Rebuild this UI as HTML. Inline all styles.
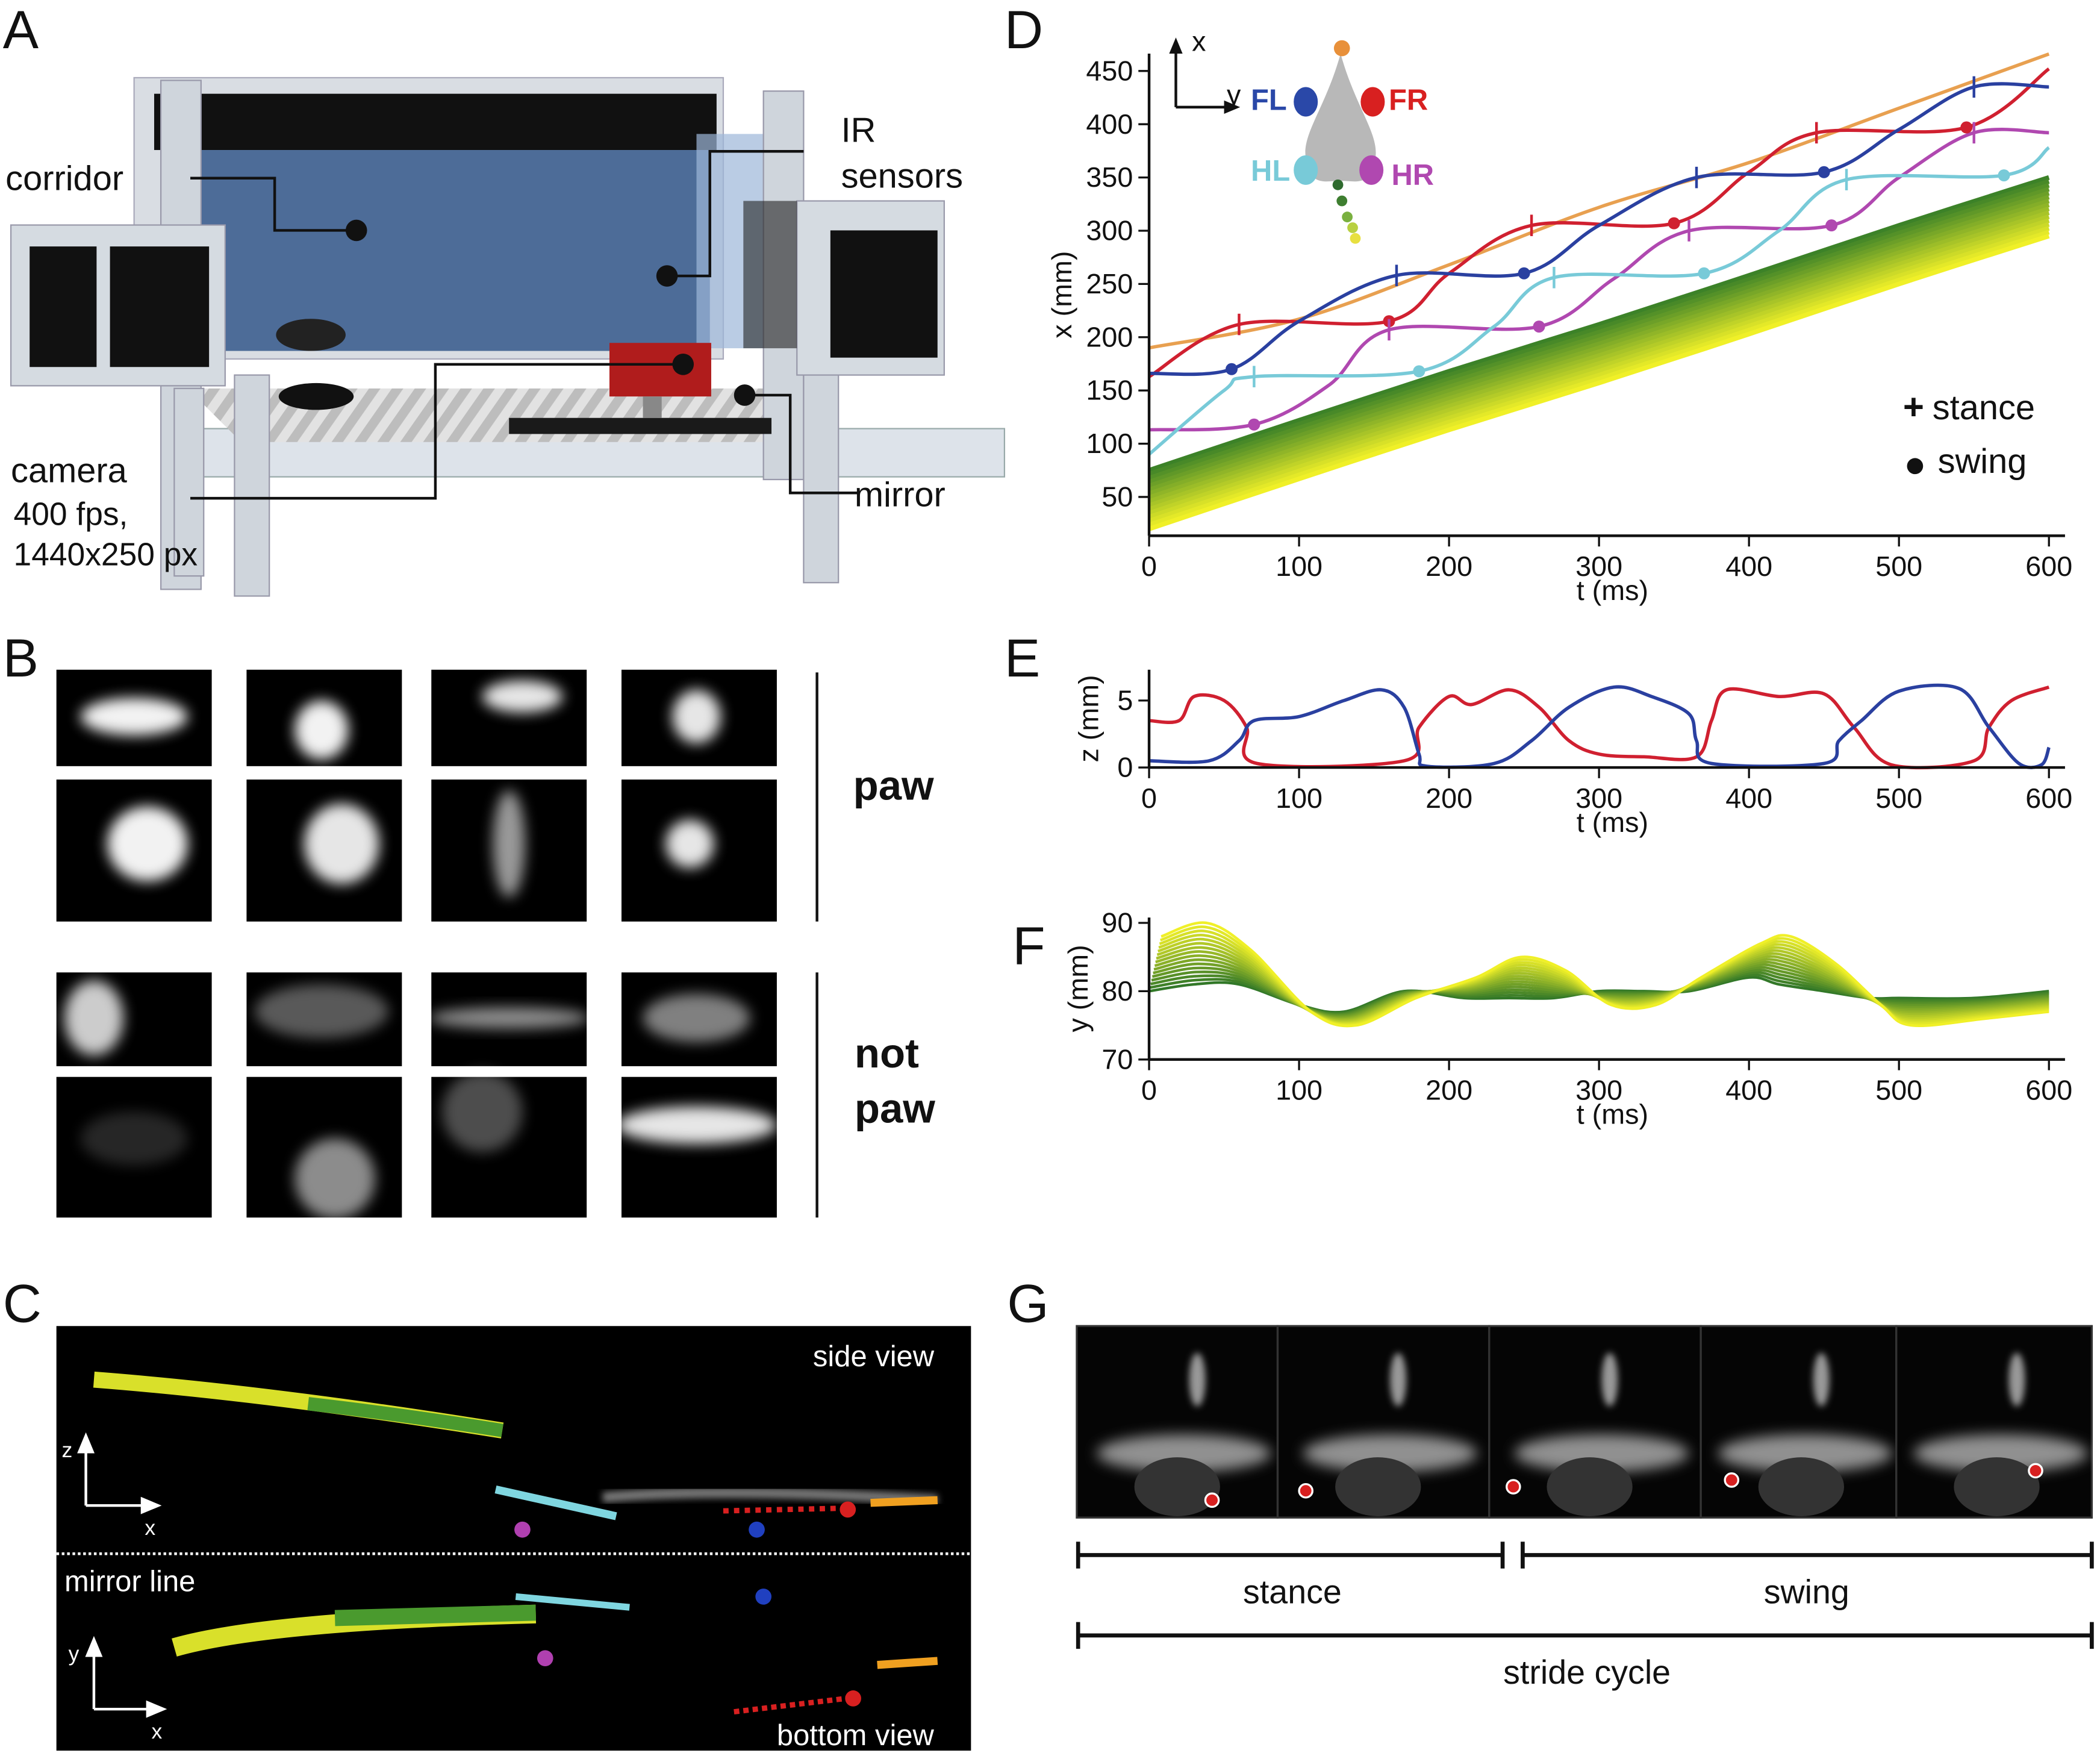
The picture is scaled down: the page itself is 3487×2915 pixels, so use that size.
<!DOCTYPE html>
<html><head><meta charset="utf-8"><style>
html,body{margin:0;padding:0;background:#fff}
svg{display:block}
text{font-family:"Liberation Sans",sans-serif}
</style></head><body>
<svg id="fig" width="3487" height="2915" viewBox="0 0 1568 1311" xmlns="http://www.w3.org/2000/svg">
<defs>
<filter id="blur" x="-50%" y="-50%" width="200%" height="200%"><feGaussianBlur stdDeviation="5"/></filter>
<filter id="blur2" x="-50%" y="-50%" width="200%" height="200%"><feGaussianBlur stdDeviation="2.5"/></filter>
<pattern id="stripes" width="14" height="14" patternUnits="userSpaceOnUse" patternTransform="rotate(35)"><rect width="14" height="14" fill="#e2e2e2"/><rect width="7" height="14" fill="#bdbdbd"/></pattern>
</defs>

<g font-size="40" fill="#111">
<text x="2" y="36">A</text>
<text x="2" y="505">B</text>
<text x="2" y="987">C</text>
<text x="750" y="36">D</text>
<text x="750" y="505">E</text>
<text x="756" y="720">F</text>
<text x="752" y="987">G</text>
</g>

<g>
<rect x="150" y="320" width="600" height="36" fill="#dde3ea" stroke="#9aa" />
<polygon points="140,290 600,290 620,330 180,330" fill="url(#stripes)"/>
<rect x="100" y="58" width="440" height="210" fill="#d9dde3" stroke="#aab"/>
<rect x="115" y="70" width="420" height="42" fill="#111"/>
<rect x="150" y="112" width="380" height="150" fill="#3d5f8f" opacity="0.9"/>
<rect x="520" y="100" width="80" height="160" fill="#9db7d8" opacity="0.7"/>
<rect x="120" y="60" width="30" height="380" fill="#cfd5dc" stroke="#99a"/>
<rect x="175" y="280" width="26" height="165" fill="#cfd5dc" stroke="#99a"/>
<rect x="130" y="290" width="22" height="140" fill="#cfd5dc" stroke="#99a"/>
<rect x="570" y="68" width="30" height="290" fill="#cfd5dc" stroke="#99a"/>
<rect x="600" y="270" width="26" height="165" fill="#cfd5dc" stroke="#99a"/>
<rect x="8" y="168" width="160" height="120" fill="#d5dbe1" stroke="#99a"/>
<rect x="22" y="184" width="50" height="90" fill="#111"/>
<rect x="82" y="184" width="74" height="90" fill="#111"/>
<rect x="595" y="150" width="110" height="130" fill="#d5dbe1" stroke="#99a"/>
<rect x="620" y="172" width="80" height="95" fill="#111"/>
<rect x="555" y="150" width="40" height="110" fill="#222" opacity="0.6"/>
<rect x="380" y="312" width="196" height="12" fill="#1a1a1a"/>
<rect x="455" y="256" width="76" height="40" fill="#b01c1c"/>
<rect x="480" y="296" width="14" height="16" fill="#888"/>
<ellipse cx="232" cy="250" rx="26" ry="12" fill="#222"/>
<ellipse cx="236" cy="296" rx="28" ry="10" fill="#111"/>
</g>
<g stroke="#111" stroke-width="2" fill="none">
<polyline points="142,133 205,133 205,172 266,172"/>
<polyline points="600,113 530,113 530,206 498,206"/>
<polyline points="142,372 325,372 325,272 510,272"/>
<polyline points="640,368 590,368 590,295 556,295"/>
</g>
<g fill="#111"><circle cx="266" cy="172" r="8"/><circle cx="498" cy="206" r="8"/><circle cx="510" cy="272" r="8"/><circle cx="556" cy="295" r="8"/></g>
<g font-size="26" fill="#111">
<text x="4" y="142">corridor</text>
<text x="628" y="106">IR</text>
<text x="628" y="140">sensors</text>
<text x="8" y="360">camera</text>
<text x="10" y="392" font-size="24">400 fps,</text>
<text x="10" y="422" font-size="24">1440x250  px</text>
<text x="638" y="378">mirror</text>
</g>

<g id="panelB"></g>
<line x1="610" y1="502" x2="610" y2="688" stroke="#111" stroke-width="2"/>
<line x1="610" y1="726" x2="610" y2="909" stroke="#111" stroke-width="2"/>
<text x="637" y="597" font-size="31" font-weight="bold" fill="#111">paw</text>
<text x="638" y="797" font-size="31" font-weight="bold" fill="#111">not</text>
<text x="638" y="838" font-size="31" font-weight="bold" fill="#111">paw</text>

<g>
<rect x="42" y="990" width="683" height="317" fill="#000"/>
<path d="M70,1030 Q200,1040 375,1068" stroke="#d9e02a" stroke-width="12" fill="none"/>
<path d="M230,1048 Q300,1056 375,1068" stroke="#4a9a2e" stroke-width="10" fill="none"/>
<path d="M370,1112 L460,1132" stroke="#7fd6e0" stroke-width="6" fill="none"/>
<path d="M450,1118 Q540,1110 700,1120" stroke="#777" stroke-width="8" fill="none" filter="url(#blur2)"/>
<path d="M540,1128 L630,1126" stroke="#d82020" stroke-width="4" stroke-dasharray="4 4"/>
<circle cx="633" cy="1127" r="6" fill="#d82020"/>
<path d="M650,1122 L700,1120" stroke="#f0a020" stroke-width="6"/>
<circle cx="390" cy="1142" r="6" fill="#b040b0"/>
<circle cx="565" cy="1142" r="6" fill="#2040c0"/>
<line x1="42" y1="1160" x2="725" y2="1160" stroke="#fff" stroke-width="2" stroke-dasharray="2 2"/>
<path d="M130,1230 Q200,1210 400,1205" stroke="#d9e02a" stroke-width="14" fill="none"/>
<path d="M250,1208 L400,1204" stroke="#4a9a2e" stroke-width="12" fill="none"/>
<path d="M385,1192 L470,1200" stroke="#7fd6e0" stroke-width="5" fill="none"/>
<circle cx="570" cy="1192" r="6" fill="#2040c0"/>
<path d="M655,1243 L700,1240" stroke="#f0a020" stroke-width="6"/>
<path d="M548,1278 L632,1268" stroke="#d82020" stroke-width="4" stroke-dasharray="4 3"/>
<circle cx="637" cy="1268" r="6" fill="#d82020"/>
<circle cx="407" cy="1238" r="6" fill="#b040b0"/>
<g stroke="#fff" stroke-width="2" fill="#fff">
<line x1="64" y1="1124" x2="64" y2="1080"/><polygon points="59,1084 64,1072 69,1084"/>
<line x1="64" y1="1124" x2="110" y2="1124"/><polygon points="106,1119 118,1124 106,1129"/>
<line x1="70" y1="1276" x2="70" y2="1232"/><polygon points="65,1236 70,1224 75,1236"/>
<line x1="70" y1="1276" x2="114" y2="1276"/><polygon points="110,1271 122,1276 110,1281"/>
</g>
<g fill="#fff" font-size="22">
<text x="607" y="1020">side view</text>
<text x="48" y="1188">mirror line</text>
<text x="580" y="1303">bottom view</text>
<text x="46" y="1088" font-size="16">z</text><text x="108" y="1146" font-size="16">x</text>
<text x="51" y="1240" font-size="16">y</text><text x="113" y="1298" font-size="16">x</text>
</g>
</g>

<g id="panelG"></g>
<g stroke="#111" stroke-width="3">
<line x1="805" y1="1161" x2="1122" y2="1161"/><line x1="805" y1="1151" x2="805" y2="1171"/><line x1="1122" y1="1151" x2="1122" y2="1171"/>
<line x1="1137" y1="1161" x2="1562" y2="1161"/><line x1="1137" y1="1151" x2="1137" y2="1171"/><line x1="1562" y1="1151" x2="1562" y2="1171"/>
<line x1="805" y1="1221" x2="1562" y2="1221"/><line x1="805" y1="1211" x2="805" y2="1231"/><line x1="1562" y1="1211" x2="1562" y2="1231"/>
</g>
<g font-size="25" fill="#111" text-anchor="middle">
<text x="965" y="1197">stance</text>
<text x="1349" y="1197">swing</text>
<text x="1185" y="1257">stride cycle</text>
</g>

<g id="chartD"></g>
<g id="chartE"></g>
<g id="chartF"></g>
</svg>
<script>
const dTimeTicks=[0,100,200,300,400,500,600];
const dXTicks=[50,100,150,200,250,300,350,400,450];
const noseT=[0,100,200,300,400,500,600];
const noseV=[190,217,268,322,364,415,466];
const flT=[0,55,100,165,250,300,365,450,500,550,600];
const flV=[166,170,215,258,260,305,350,355,395,435,435];
const frT=[0,60,160,200,255,350,400,445,545,600];
const frV=[163,212,215,260,305,307,355,392,397,452];
const hlT=[0,50,70,180,230,270,370,420,465,570,600];
const hlV=[90,150,163,168,210,256,260,300,348,352,378];
const hrT=[0,70,120,160,260,310,360,455,500,550,600];
const hrV=[113,118,155,207,210,255,300,305,350,392,392];
const flStanceT=[165,365,550], flSwingT=[55,250,450];
const frStanceT=[60,255,445], frSwingT=[160,350,545];
const hlStanceT=[70,270,465], hlSwingT=[180,370,570];
const hrStanceT=[160,360,550], hrSwingT=[70,260,455];
const tailT=[0,100,200,300,400,500,600];
const tailTopV=[75,122,168,212,258,305,350];
const tailSpread=[0,55];
const eTicksY=[0,5];
const redZT=[0,20,30,50,65,72,170,180,200,215,240,260,280,300,330,365,375,385,420,450,470,495,550,560,575,600];
const redZV=[3.5,3.5,5.3,5,3,0.3,0.5,3,5.3,4.7,5.8,4.5,2,1,0.8,0.8,3.5,5.8,5.3,5.5,3,0.2,0.5,3,5,6];
const blueZT=[0,40,60,70,100,130,155,170,180,185,230,255,280,310,335,360,365,375,450,460,475,500,540,560,580,595,600];
const blueZV=[0.5,0.5,2,3.5,3.8,5,5.8,4.5,1,0.1,0.3,2,4.5,6,5.3,4,2,0.3,0.3,2,3.5,5.7,5.9,3,0.3,0.2,1.5];
const fTicksY=[70,80,90];
const fT=[0,30,60,100,130,170,210,240,270,300,330,360,400,420,450,480,500,550,600];
const yellowY=[88,90,86,77,75,79,82,85,83,78,78,82,87,88,84,78,75,76,77];
const greenY=[80,81,81,78,77,80,79,79,79,80,80,80,82,81,80,79,79,79,80];

const NS="http://www.w3.org/2000/svg";
function mk(parent,tag,attrs){const e=document.createElementNS(NS,tag);for(const k in attrs)e.setAttribute(k,attrs[k]);parent.appendChild(e);return e;}
function interp(ts,vs,t){for(let i=0;i<ts.length-1;i++){if(t<=ts[i+1]){const f=(t-ts[i])/(ts[i+1]-ts[i]);return vs[i]+f*(vs[i+1]-vs[i]);}}return vs[vs.length-1];}
function X(t){return 858+t*1.12;}
function pathFrom(ts,vs,yf){
  const p=ts.map((t,i)=>[X(t),yf(vs[i])]);
  let d='M'+p[0][0].toFixed(1)+','+p[0][1].toFixed(1);
  for(let i=0;i<p.length-1;i++){
    const p0=p[Math.max(0,i-1)],p1=p[i],p2=p[i+1],p3=p[Math.min(p.length-1,i+2)];
    const c1=[p1[0]+(p2[0]-p0[0])/6,p1[1]+(p2[1]-p0[1])/6];
    const c2=[p2[0]-(p3[0]-p1[0])/6,p2[1]-(p3[1]-p1[1])/6];
    d+=' C'+c1.map(v=>v.toFixed(1)).join(',')+' '+c2.map(v=>v.toFixed(1)).join(',')+' '+p2[0].toFixed(1)+','+p2[1].toFixed(1);
  }
  return d;
}
function lerpColor(a,b,f){return 'rgb('+a.map((v,i)=>Math.round(v+(b[i]-v)*f)).join(',')+')';}
function xAxis(g,y,ticks,name){
  const ax=mk(g,'line',{x1:X(0),y1:y,x2:X(600)+12,y2:y,stroke:'#111','stroke-width':2});
  
  
  ticks.forEach(t=>{mk(g,'line',{x1:X(t),y1:y,x2:X(t),y2:y+8,stroke:'#111','stroke-width':1.5});
    const tx=mk(g,'text',{x:X(t),y:y+30,'font-size':21,'text-anchor':'middle',fill:'#111'});tx.textContent=t;
    
    });
  const tl=mk(g,'text',{x:1204,y:y+48,'font-size':21,'text-anchor':'middle',fill:'#111'});tl.textContent='t (ms)';
  
  
}
function yAxis(g,y0,y1,ticks,yf,title,name,tx){
  mk(g,'line',{x1:X(0),y1:y0,x2:X(0),y2:y1,stroke:'#111','stroke-width':2});
  ticks.forEach(v=>{mk(g,'line',{x1:X(0)-8,y1:yf(v),x2:X(0),y2:yf(v),stroke:'#111','stroke-width':1.5});
    const t=mk(g,'text',{x:X(0)-12,y:yf(v)+7,'font-size':21,'text-anchor':'end',fill:'#111'});t.textContent=v;
    
    });
  const yt=mk(g,'text',{x:tx,y:(y0+y1)/2,'font-size':21,'text-anchor':'middle',fill:'#111',transform:`rotate(-90 ${tx} ${(y0+y1)/2})`});yt.textContent=title;
  
  
}
(function(){
  const g=document.getElementById('chartD');
  const Yd=v=>53+(450-v)*0.795;
  const n=16;
  for(let k=0;k<n;k++){
    const f=k/(n-1);
    const vs=tailTopV.map(v=>v-tailSpread[0]-f*(tailSpread[1]-tailSpread[0]));
    const p=mk(g,'path',{d:pathFrom(tailT,vs,Yd),fill:'none',stroke:lerpColor([60,130,40],[240,240,40],f),'stroke-width':3.5});
    
    
  }
  const series=[[noseT,noseV,'#e8a050','nose-line'],[hrT,hrV,'#b048b0','hr-line'],[hlT,hlV,'#78cad8','hl-line'],[frT,frV,'#d02030','fr-line'],[flT,flV,'#2a40a0','fl-line']];
  series.forEach(s=>{const p=mk(g,'path',{d:pathFrom(s[0],s[1],Yd),fill:'none',stroke:s[2],'stroke-width':2.5});
    
    });
  const marks=[[flT,flV,flStanceT,flSwingT,'#2a40a0'],[frT,frV,frStanceT,frSwingT,'#d02030'],[hlT,hlV,hlStanceT,hlSwingT,'#78cad8'],[hrT,hrV,hrStanceT,hrSwingT,'#b048b0']];
  marks.forEach(m=>{
    m[2].forEach(t=>{const y=Yd(interp(m[0],m[1],t));const l=mk(g,'line',{x1:X(t),y1:y-8,x2:X(t),y2:y+8,stroke:m[4],'stroke-width':2});
      
      });
    m[3].forEach(t=>{const c=mk(g,'circle',{cx:X(t),cy:Yd(interp(m[0],m[1],t)),r:4.5,fill:m[4]});
      
      });
  });
  yAxis(g,40,400,dXTicks,Yd,'x (mm)','chart-d',800);
  xAxis(g,400,dTimeTicks,'chart-d');
  const ins=mk(g,'g',{});
  
  
  mk(ins,'line',{x1:878,y1:80,x2:878,y2:34,stroke:'#111','stroke-width':2});mk(ins,'polygon',{points:'873,40 878,28 883,40',fill:'#111'});
  mk(ins,'line',{x1:878,y1:80,x2:918,y2:80,stroke:'#111','stroke-width':2});mk(ins,'polygon',{points:'914,75 926,80 914,85',fill:'#111'});
  let t=mk(ins,'text',{x:890,y:38,'font-size':21,fill:'#111'});t.textContent='x';
  t=mk(ins,'text',{x:916,y:78,'font-size':21,fill:'#111'});t.textContent='y';
  mk(ins,'path',{d:'M1001,40 C990,80 972,100 975,118 C978,140 990,135 1001,135 C1012,135 1024,140 1027,118 C1030,100 1012,80 1001,40 Z',fill:'#b8b8b8'});
  mk(ins,'circle',{cx:1002,cy:36,r:6,fill:'#e8903a'});
  mk(ins,'ellipse',{cx:975,cy:76,rx:9,ry:11,fill:'#2a48a8'});
  mk(ins,'ellipse',{cx:1025,cy:76,rx:9,ry:11,fill:'#d82020'});
  mk(ins,'ellipse',{cx:975,cy:127,rx:9,ry:11,fill:'#78cad8'});
  mk(ins,'ellipse',{cx:1024,cy:127,rx:9,ry:11,fill:'#b048b0'});
  [[999,138,'#2e6a2e'],[1002,150,'#3e7e30'],[1006,162,'#7ab040'],[1010,170,'#b8d040'],[1012,178,'#e8e040']].forEach(c=>mk(ins,'circle',{cx:c[0],cy:c[1],r:4,fill:c[2]}));
  t=mk(ins,'text',{x:934,y:82,'font-size':22,'font-weight':'bold',fill:'#2a48a8'});t.textContent='FL';
  t=mk(ins,'text',{x:1037,y:82,'font-size':22,'font-weight':'bold',fill:'#d82020'});t.textContent='FR';
  t=mk(ins,'text',{x:934,y:135,'font-size':22,'font-weight':'bold',fill:'#78cad8'});t.textContent='HL';
  t=mk(ins,'text',{x:1039,y:138,'font-size':22,'font-weight':'bold',fill:'#b048b0'});t.textContent='HR';
  const lg=mk(g,'g',{});
  
  
  t=mk(lg,'text',{x:1421,y:313,'font-size':27,'font-weight':'bold',fill:'#111'});t.textContent='+';
  t=mk(lg,'text',{x:1443,y:313,'font-size':26,fill:'#111'});t.textContent='stance';
  mk(lg,'circle',{cx:1430,cy:348,r:6,fill:'#111'});
  t=mk(lg,'text',{x:1447,y:353,'font-size':26,fill:'#111'});t.textContent='swing';
})();
(function(){
  const g=document.getElementById('chartE');
  const Ye=v=>573-v*10;
  let p=mk(g,'path',{d:pathFrom(redZT,redZV,Ye),fill:'none',stroke:'#d02030','stroke-width':2.5});
  
  
  p=mk(g,'path',{d:pathFrom(blueZT,blueZV,Ye),fill:'none',stroke:'#2a40a0','stroke-width':2.5});
  
  
  yAxis(g,500,573,eTicksY,Ye,'z (mm)','chart-e',820);
  xAxis(g,573,dTimeTicks,'chart-e');
})();
(function(){
  const g=document.getElementById('chartF');
  const Yf=v=>740-(v-80)*5.1;
  const n=16;
  for(let k=0;k<n;k++){
    const f=k/(n-1);
    const vs=greenY.map((v,i)=>v+(yellowY[i]-v)*f);
    const ts=fT.map(t=>Math.min(600,t+f*8));
    const p=mk(g,'path',{d:pathFrom(ts,vs,Yf),fill:'none',stroke:lerpColor([50,120,40],[240,240,40],f),'stroke-width':2});
    
    
  }
  yAxis(g,685,791,fTicksY,Yf,'y (mm)','chart-f',812);
  xAxis(g,791,dTimeTicks,'chart-f');
})();
(function(){
  const g=document.getElementById('panelB');
  const cols=[[42,116],[184,116],[322,116],[464,116]];
  const rows=[[500,72],[582,106],[726,70],[804,105]];
  const blobs=[[100,535,40,14,0.95],[240,545,20,22,0.95],[390,520,30,12,0.9],[520,535,18,20,0.9],
               [110,630,30,28,0.95],[255,630,28,30,0.9],[380,630,12,40,0.6],[515,630,18,18,0.9],
               [70,760,22,28,0.8],[240,755,50,20,0.35],[380,760,60,8,0.55],[520,760,40,18,0.5],
               [100,850,40,20,0.15],[250,880,30,30,0.55],[360,830,30,30,0.3],[520,840,60,14,0.9]];
  let idx=0;
  rows.forEach(r=>cols.forEach(c=>{
    const rc=mk(g,'rect',{x:c[0],y:r[0],width:c[1],height:r[1],fill:'#000'});
    
    
    const b=blobs[idx++];
    mk(g,'ellipse',{cx:b[0],cy:b[1],rx:b[2],ry:b[3],fill:'#fff',opacity:b[4],filter:'url(#blur)'});
  }));
})();
(function(){
  const g=document.getElementById('panelG');
  const xs=[804,954,1112,1270,1416];
  const ws=[150,158,158,146,146];
  const dots=[[905,1120],[975,1113],[1130,1110],[1293,1105],[1520,1098]];
  xs.forEach((x,i)=>{
    const r=mk(g,'rect',{x:x,y:990,width:ws[i],height:143,fill:'#050505',stroke:'#333','stroke-width':1.5});
    
    
    mk(g,'ellipse',{cx:x+ws[i]/2+5,cy:1085,rx:65,ry:14,fill:'#ccc',opacity:0.7,filter:'url(#blur)'});
    mk(g,'ellipse',{cx:x+90,cy:1030,rx:6,ry:20,fill:'#999',filter:'url(#blur2)'});
    mk(g,'ellipse',{cx:x+75,cy:1110,rx:32,ry:22,fill:'#333'});
    mk(g,'circle',{cx:dots[i][0],cy:dots[i][1],r:5,fill:'#d82020',stroke:'#fff','stroke-width':1.5});
  });
})();
</script>
</body></html>
